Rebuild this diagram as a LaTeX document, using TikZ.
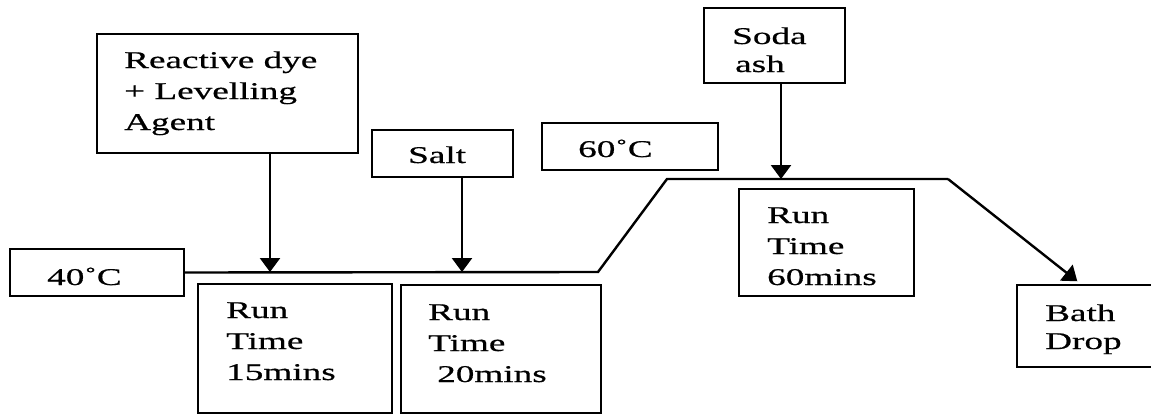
\documentclass[tikz,border=0pt]{standalone}
\usepackage{fontspec}
\setmainfont{Liberation Serif}[FakeStretch=1.55,FakeBold=0.6]
\usetikzlibrary{arrows.meta}
\begin{document}
\begin{tikzpicture}[x=1pt,y=-1pt,
  line/.style={line width=2.4pt, line join=miter},
  arr/.style={line, -{Triangle[width=20pt,length=14pt]}},
  box/.style={draw, line width=2.4pt, anchor=north west, inner sep=0pt, outer sep=0pt},
  txt/.style={anchor=base west, inner sep=0pt, align=left, font=\fontsize{24}{31}\selectfont},
  txtb/.style={txt, font=\fontsize{24}{28}\selectfont}]
\useasboundingbox (0,0) rectangle (1151,415);
% boxes
\node[box, minimum width=261pt, minimum height=119pt] (dye) at (97,34) {};
\node[box, minimum width=174pt, minimum height=47pt] (t40) at (10,249) {};
\node[box, minimum width=194pt, minimum height=129pt] (run1) at (198,284) {};
\node[box, minimum width=200pt, minimum height=128pt] (run2) at (401,285) {};
\node[box, minimum width=141pt, minimum height=47pt] (salt) at (372,130) {};
\node[box, minimum width=176pt, minimum height=47pt] (t60) at (542,123) {};
\node[box, minimum width=141pt, minimum height=75pt] (soda) at (704,8) {};
\node[box, minimum width=175pt, minimum height=107pt] (run3) at (739,189) {};
\node[box, minimum width=143pt, minimum height=82pt] (bath) at (1017,285) {};
% texts (base = baseline of last line)
\node[txt] (dyet) at (124,130) {Reactive dye\\+ Levelling\\Agent};
\node[txt] (t40t) at (47,285) {40˚C};
\node[txt] (saltt) at (408,163) {Salt};
\node[txt] (t60t) at (578,157) {60˚C};
\node[txtb] (sodat) at (732,72) {Soda\\\hspace{3pt}ash};
\node[txt] (run1t) at (226,380) {Run\\Time\\15mins};
\node[txt] (run2t) at (428,382) {Run\\Time\\\hspace{9pt}20mins};
\node[txt] (run3t) at (767,285) {Run\\Time\\60mins};
\node[txtb] (batht) at (1045,349) {Bath\\Drop};
% temperature line
\coordinate (p1) at (270,272);
\coordinate (p2) at (462,272);
\coordinate (k1) at (598,272);
\coordinate (k2) at (667,179);
\coordinate (p3) at (781,179);
\coordinate (k3) at (948,179);
\draw[line] (t40.east) -- (k1) -- (k2) -- (k3);
\draw[arr, shorten >=6pt] (k3) -- ([xshift=65pt]bath.north west);
% additions
\draw[arr] (dye.south -| p1) -- (p1);
\draw[arr] (salt.south -| p2) -- (p2);
\draw[arr] (soda.south -| p3) -- (p3);
\end{tikzpicture}
\end{document}
